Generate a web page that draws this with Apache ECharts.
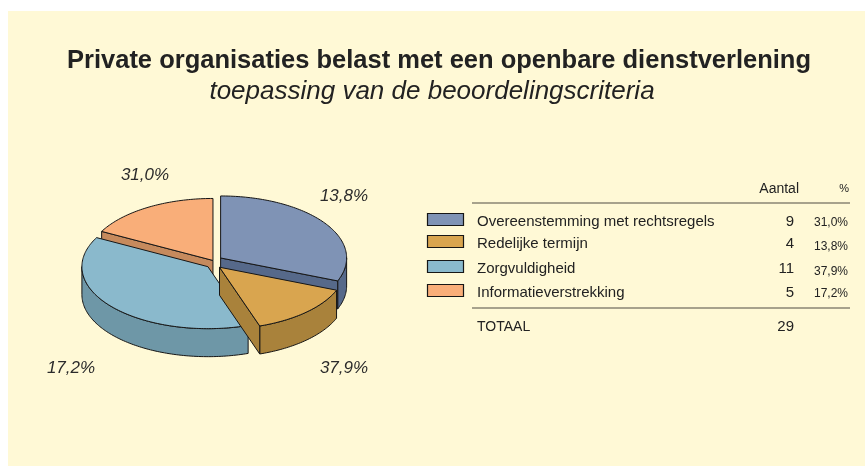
<!DOCTYPE html>
<html>
<head>
<meta charset="utf-8">
<script src="https://cdn.jsdelivr.net/npm/echarts@6/dist/echarts.min.js"></script>
<style>
  html, body { margin: 0; padding: 0; background: #ffffff; }
  #chart { width: 865px; height: 466px; }
</style>
</head>
<body>
<div id="chart"></div>
<script>
// ---- data ----
const titleText = 'Private organisaties belast met een openbare dienstverlening';
const subtitleText = 'toepassing van de beoordelingscriteria';
const categories = ['Overeenstemming met rechtsregels', 'Redelijke termijn', 'Zorgvuldigheid', 'Informatieverstrekking'];
const counts = [9, 4, 11, 5];
const percents = [31.0, 13.8, 37.9, 17.2];
const headerLabels = ['Aantal', '%'];
const totalLabel = 'TOTAAL';
const totalCount = 29;

// ---- styling ----
const FONT = '"Liberation Sans", Arial, Helvetica, sans-serif';
const topColors  = ['#7F93B5', '#D9A54F', '#8AB9CC', '#F9AE79'];
const wallColors = ['#56698A', '#A9823B', '#6E97A7', '#C68A5D'];
const edgeColor = '#161616';

// pie geometry (pixels): centre, ellipse radii, thickness, explode distance per slice
const PIE = { cx: 214, cy: 262, rx: 126, ry: 62, depth: 28, tiltK: 0.9 };
const explode = [8, 8, 8, 2];
// percentage label anchors around the pie, one per slice
const labelAnchors = [[145, 175], [344, 196], [344, 368], [71, 368]];

// table layout
const rowY = [222, 244, 269, 293];
const pctY = [223, 247, 272, 294];

const fmtPct = v => v.toFixed(1).replace('.', ',') + '%';

const sumCounts = counts.reduce((a, b) => a + b, 0);
const startAngles = [];
{
  let acc = 0;
  counts.forEach(c => { startAngles.push(acc / sumCounts * Math.PI * 2); acc += c; });
}

// back-to-front ordering of slices by the depth of their mid angle
const depthRank = (() => {
  const mids = counts.map((c, i) => startAngles[i] + c / sumCounts * Math.PI);
  const order = mids.map((m, i) => ({ i, y: -Math.cos(m) })).sort((a, b) => a.y - b.y);
  const rank = [];
  order.forEach((o, r) => { rank[o.i] = r; });
  return rank;
})();

function renderSlice(params, api) {
  const i = params.dataIndex;
  const value = api.value(0);
  const a1 = startAngles[i];
  const a2 = a1 + value / sumCounts * Math.PI * 2;
  const mid = (a1 + a2) / 2;
  const ox = explode[i] * Math.sin(mid);
  const oy = -explode[i] * Math.cos(mid) * PIE.tiltK;
  const ax = PIE.cx + ox, ay = PIE.cy + oy;
  const rim = t => [ax + PIE.rx * Math.sin(t), ay - PIE.ry * Math.cos(t)];
  const arc = (t0, t1) => {
    const n = Math.max(2, Math.ceil((t1 - t0) / 0.02));
    const pts = [];
    for (let k = 0; k <= n; k++) pts.push(rim(t0 + (t1 - t0) * k / n));
    return pts;
  };
  const down = p => [p[0], p[1] + PIE.depth];
  const base = depthRank[i] * 10;
  const children = [];
  const lineStyle = { stroke: edgeColor, lineWidth: 1, lineJoin: 'round' };

  // outer curved wall (front half only)
  const w0 = Math.max(a1, Math.PI / 2), w1 = Math.min(a2, Math.PI * 1.5);
  if (w1 > w0) {
    const top = arc(w0, w1);
    const pts = top.concat(top.slice().reverse().map(down));
    children.push({ type: 'polygon', z2: base + 1, shape: { points: pts },
      style: Object.assign({ fill: wallColors[i] }, lineStyle) });
  }
  // radial cut walls that face the viewer
  const radialWall = t => {
    const p = rim(t);
    return { type: 'polygon', z2: base + 2,
      shape: { points: [[ax, ay], p, down(p), [ax, ay + PIE.depth]] },
      style: Object.assign({ fill: wallColors[i] }, lineStyle) };
  };
  if (Math.sin(a1) < -1e-6) children.push(radialWall(a1));
  if (Math.sin(a2) > 1e-6) children.push(radialWall(a2));

  // top face
  children.push({ type: 'polygon', z2: base + 5,
    shape: { points: [[ax, ay]].concat(arc(a1, a2)) },
    style: Object.assign({ fill: topColors[i] }, lineStyle) });

  // percentage label
  children.push({ type: 'text', z2: 100,
    style: { text: fmtPct(percents[i]), x: labelAnchors[i][0], y: labelAnchors[i][1],
      align: 'center', verticalAlign: 'middle', fill: '#2b2b2b',
      font: 'italic 17px ' + FONT } });

  return { type: 'group', children };
}

// table to the right of the pie
const tableGraphics = [];
const txt = (text, x, y, size, align, extra) => ({
  type: 'text', z: 10,
  style: Object.assign({ text, x, y, align, verticalAlign: 'middle', fill: '#222222',
    font: size + 'px ' + FONT }, extra || {})
});
tableGraphics.push(txt(headerLabels[0], 799, 189, 14, 'right'));
tableGraphics.push(txt(headerLabels[1], 849, 189, 11, 'right'));
tableGraphics.push({ type: 'line', z: 10, shape: { x1: 472, y1: 203, x2: 850, y2: 203 },
  style: { stroke: '#8A8573', lineWidth: 1.5 } });
categories.forEach((name, i) => {
  tableGraphics.push({ type: 'rect', z: 10, shape: { x: 427.5, y: rowY[i] - 8.5, width: 36, height: 12 },
    style: { fill: topColors[i], stroke: edgeColor, lineWidth: 1.2 } });
  tableGraphics.push(txt(name, 477, rowY[i], 15, 'left'));
  tableGraphics.push(txt(String(counts[i]), 794, rowY[i], 15, 'right'));
  tableGraphics.push(txt(fmtPct(percents[i]), 848, pctY[i], 12, 'right'));
});
tableGraphics.push({ type: 'line', z: 10, shape: { x1: 472, y1: 308, x2: 850, y2: 308 },
  style: { stroke: '#8A8573', lineWidth: 1.5 } });
tableGraphics.push(txt(totalLabel, 477, 327, 14, 'left'));
tableGraphics.push(txt(String(totalCount), 794, 327, 15, 'right'));

const chart = echarts.init(document.getElementById('chart'), null, { renderer: 'canvas' });
chart.setOption({
  backgroundColor: '#ffffff',
  animation: false,
  graphic: [
    { type: 'rect', z: 0, shape: { x: 8, y: 11, width: 857, height: 455 }, style: { fill: '#FFF9D6' } },
    { type: 'text', z: 10, style: { text: titleText, x: 439, y: 61, align: 'center', verticalAlign: 'middle',
        fill: '#222222', font: 'bold 25.5px ' + FONT } },
    { type: 'text', z: 10, style: { text: subtitleText, x: 432, y: 92, align: 'center', verticalAlign: 'middle',
        fill: '#222222', font: 'italic 26px ' + FONT } }
  ].concat(tableGraphics),
  series: [{
    type: 'custom',
    coordinateSystem: 'none',
    renderItem: renderSlice,
    data: counts.map((c, i) => ({ name: categories[i], value: [c, i] })),
    z: 5
  }]
});
</script>
</body>
</html>
